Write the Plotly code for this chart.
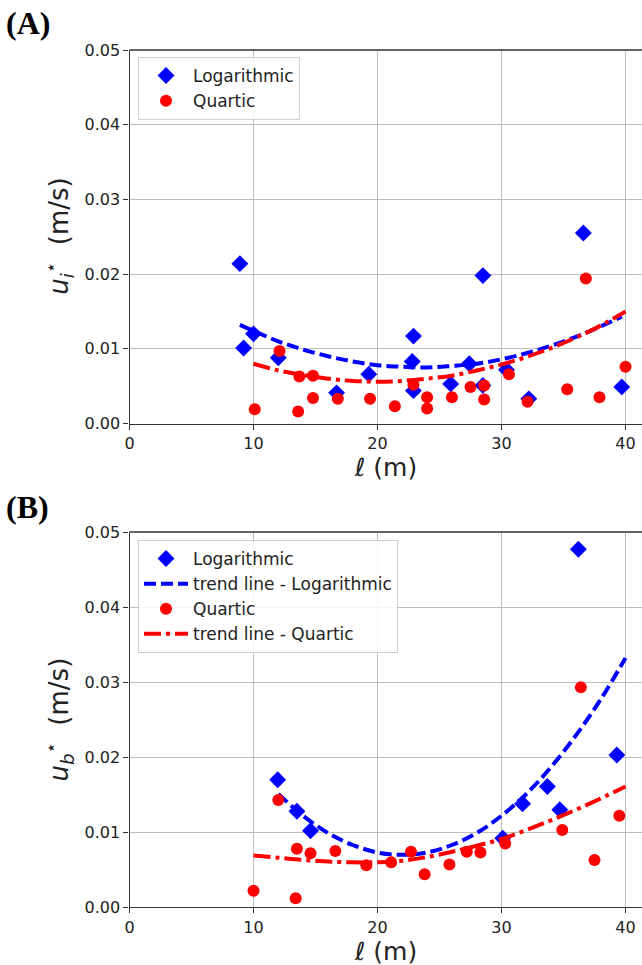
import plotly.graph_objects as go

# ---------------- Panel A data ----------------
a_log_x = [8.9, 9.2, 10.0, 12.0, 16.7, 19.3, 22.9, 22.8, 22.9, 25.9, 27.4, 28.5, 28.5, 30.4, 32.2, 36.6, 39.7]
a_log_y = [0.0214, 0.0101, 0.0120, 0.0088, 0.0041, 0.0066, 0.0117, 0.0083, 0.0044, 0.0053, 0.0080, 0.0198, 0.0051, 0.0072, 0.0033, 0.0255, 0.0049]
a_qua_x = [10.1, 12.1, 13.6, 13.7, 14.8, 14.8, 16.8, 19.4, 21.4, 22.9, 24.0, 24.0, 26.0, 27.5, 28.6, 28.6, 30.6, 32.1, 35.3, 36.8, 37.9, 40.0]
a_qua_y = [0.0019, 0.0097, 0.0016, 0.0063, 0.0064, 0.0034, 0.0033, 0.0033, 0.0023, 0.0052, 0.0035, 0.0020, 0.0035, 0.0049, 0.0051, 0.0032, 0.0066, 0.0029, 0.0046, 0.0194, 0.0035, 0.0076]
a_tlog_x = [8.9, 10, 12, 14, 16, 18, 20, 22, 24, 26, 28, 30, 32, 34, 36, 38, 39.7]
a_tlog_y = [0.0132, 0.0124, 0.0110, 0.0099, 0.0090, 0.0083, 0.0078, 0.0076, 0.0075, 0.0077, 0.0080, 0.0086, 0.0094, 0.0104, 0.0116, 0.0130, 0.0143]
a_tqua_x = [10, 12, 14, 16, 18, 20, 22, 24, 26, 28, 30, 32, 34, 36, 38, 40]
a_tqua_y = [0.0080, 0.0071, 0.0065, 0.0060, 0.0057, 0.0056, 0.0057, 0.0060, 0.0064, 0.0071, 0.0079, 0.0089, 0.0101, 0.0115, 0.0131, 0.0150]

# ---------------- Panel B data ----------------
b_log_x = [11.95, 13.5, 14.6, 30.1, 31.7, 33.7, 34.7, 36.2, 39.3]
b_log_y = [0.0170, 0.0128, 0.0102, 0.0092, 0.0138, 0.0161, 0.0130, 0.0477, 0.0203]
b_qua_x = [10.0, 12.0, 13.4, 13.5, 14.6, 16.6, 19.1, 21.1, 22.7, 23.8, 25.8, 27.2, 28.3, 30.3, 34.9, 36.4, 37.5, 39.5]
b_qua_y = [0.0022, 0.0143, 0.0012, 0.0078, 0.0072, 0.0075, 0.0056, 0.0060, 0.0074, 0.0044, 0.0057, 0.0074, 0.0073, 0.0085, 0.0103, 0.0293, 0.0063, 0.0122]
b_tlog_x = [12, 14, 16, 18, 20, 22, 24, 26, 28, 30, 32, 34, 36, 38, 40]
b_tlog_y = [0.0151, 0.0122, 0.0099, 0.0083, 0.0073, 0.0070, 0.0073, 0.0083, 0.0099, 0.0122, 0.0151, 0.0187, 0.0229, 0.0277, 0.0332]
b_tqua_x = [10, 12, 14, 16, 18, 20, 22, 24, 26, 28, 30, 32, 34, 36, 38, 40]
b_tqua_y = [0.0069, 0.0066, 0.0063, 0.0061, 0.0060, 0.0060, 0.0062, 0.0067, 0.0074, 0.0082, 0.0091, 0.0103, 0.0116, 0.0130, 0.0145, 0.0161]

x_ticks = [0, 10, 20, 30, 40]
y_ticks = [0.00, 0.01, 0.02, 0.03, 0.04, 0.05]

BLUE = "#0000ff"
RED = "#ff0000"
FONT = "DejaVu Sans"

fig = go.Figure()

def add_panel(xa, ya, legend, lx, ly, qx, qy, tlx, tly, tqx, tqy, show_trend_legend):
    fig.add_trace(go.Scatter(x=lx, y=ly, mode="markers", name="Logarithmic",
                             marker=dict(symbol="diamond", size=13, color=BLUE),
                             xaxis=xa, yaxis=ya, legend=legend))
    fig.add_trace(go.Scatter(x=tlx, y=tly, mode="lines", name="trend line - Logarithmic",
                             line=dict(color=BLUE, width=4, dash="12px,5px", shape="spline"),
                             xaxis=xa, yaxis=ya, legend=legend, showlegend=show_trend_legend))
    fig.add_trace(go.Scatter(x=qx, y=qy, mode="markers", name="Quartic",
                             marker=dict(symbol="circle", size=12, color=RED),
                             xaxis=xa, yaxis=ya, legend=legend))
    fig.add_trace(go.Scatter(x=tqx, y=tqy, mode="lines", name="trend line - Quartic",
                             line=dict(color=RED, width=4, dash="17px,5px,4px,5px", shape="spline"),
                             xaxis=xa, yaxis=ya, legend=legend, showlegend=show_trend_legend))

add_panel("x", "y", "legend", a_log_x, a_log_y, a_qua_x, a_qua_y,
          a_tlog_x, a_tlog_y, a_tqua_x, a_tqua_y, False)
add_panel("x2", "y2", "legend2", b_log_x, b_log_y, b_qua_x, b_qua_y,
          b_tlog_x, b_tlog_y, b_tqua_x, b_tqua_y, True)

W, H = 642, 965
xdom = [129.5 / W, 1.0]
ydomA = [1 - 423.5 / H, 1 - 50 / H]
ydomB = [1 - 907.3 / H, 1 - 532 / H]

axis_common = dict(showgrid=True, gridcolor="#bdbdbd", gridwidth=1,
                   showline=True, linecolor="#333333", linewidth=1.3,
                   ticks="outside", ticklen=5, tickcolor="#333333",
                   tickfont=dict(family=FONT, size=16, color="#222222"),
                   zeroline=False, automargin=False)

legend_common = dict(xanchor="left", yanchor="top", itemwidth=44,
                     bgcolor="rgba(255,255,255,0.85)", bordercolor="#d0d0d0", borderwidth=1,
                     font=dict(family=FONT, size=17, color="#222222"))

fig.update_layout(
    width=W, height=H,
    margin=dict(l=0, r=0, t=0, b=0, autoexpand=False),
    paper_bgcolor="white", plot_bgcolor="white",
    font=dict(family=FONT, color="#222222"),
    xaxis=dict(domain=xdom, anchor="y", range=[0, 41.33], tickvals=x_ticks, **axis_common),
    yaxis=dict(domain=ydomA, anchor="x", range=[0, 0.05], tickvals=y_ticks, tickformat=".2f", **axis_common),
    xaxis2=dict(domain=xdom, anchor="y2", range=[0, 41.33], tickvals=x_ticks, **axis_common),
    yaxis2=dict(domain=ydomB, anchor="x2", range=[0, 0.05], tickvals=y_ticks, tickformat=".2f", **axis_common),
    legend=dict(x=138 / W, y=1 - 57 / H, **legend_common),
    legend2=dict(x=138 / W, y=1 - 540 / H, **legend_common),
    showlegend=True,
)

# top spines
for xr, yr in (("x domain", "y domain"), ("x2 domain", "y2 domain")):
    fig.add_shape(type="line", xref=xr, yref=yr, x0=0, x1=1, y0=1, y1=1,
                  line=dict(color="#333333", width=1.3))

# axis labels and panel labels
ann = [
    dict(text="ℓ (m)", x=(129.5 + 642) / 2 / W, y=1 - 467 / H, size=25),
    dict(text="ℓ (m)", x=(129.5 + 642) / 2 / W, y=1 - 951 / H, size=25),
    dict(text="<i>u</i><sub><i>i</i></sub><sup>⋆</sup>  (m/s)", x=59 / W, y=1 - 236.7 / H, textangle=-90, size=26),
    dict(text="<i>u</i><sub><i>b</i></sub><sup>⋆</sup>  (m/s)", x=59 / W, y=1 - 719.6 / H, textangle=-90, size=26),
]
for a in ann:
    size = a.pop("size")
    fig.add_annotation(xref="paper", yref="paper", showarrow=False,
                       xanchor="center", yanchor="middle",
                       font=dict(family=FONT, size=size, color="#222222"), **a)

fig.add_annotation(text="<b>(A)</b>", xref="paper", yref="paper", x=4 / W, y=1 - 23 / H,
                   xanchor="left", yanchor="middle", showarrow=False,
                   font=dict(family="Liberation Serif", size=32, color="black"))
fig.add_annotation(text="<b>(B)</b>", xref="paper", yref="paper", x=4 / W, y=1 - 507 / H,
                   xanchor="left", yanchor="middle", showarrow=False,
                   font=dict(family="Liberation Serif", size=32, color="black"))

fig.write_html("out.html", config={"displayModeBar": False},
               post_script="document.body.style.margin='0';document.body.style.overflow='hidden';")
